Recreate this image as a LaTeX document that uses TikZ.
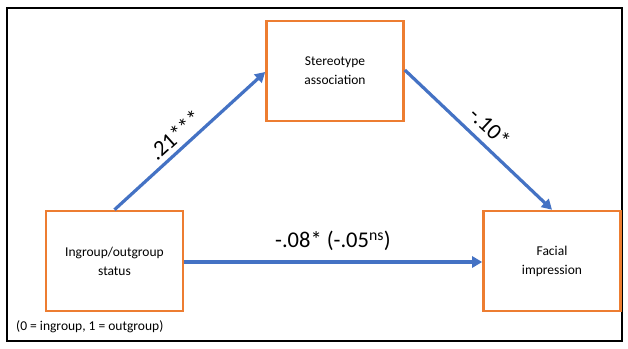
\documentclass[tikz,border=0pt]{standalone}
\usepackage{fontspec}
\setmainfont{Carlito}
\usetikzlibrary{arrows.meta}
\definecolor{boxorange}{HTML}{ED7D31}
\definecolor{arrowblue}{HTML}{4472C4}
\tikzset{
  varbox/.style={draw=boxorange, line width=2.6pt, minimum width=137pt, minimum height=100pt, align=center, font=\fontsize{13.5}{19}\selectfont, inner sep=0pt},
  patharrow/.style={draw=arrowblue, line width=3.2pt, -{Triangle[length=10pt,width=11pt]}},
  coef/.style={font=\fontsize{22.5}{24}\selectfont, inner sep=1pt}
}
\begin{document}
\begin{tikzpicture}[x=1pt,y=-1pt]
\useasboundingbox (0,0) rectangle (628,348);
\fill[white] (0,0) rectangle (628,348);
\node[draw=black, line width=2pt, minimum width=615pt, minimum height=333pt, inner sep=0pt] (frame) at (314,174) {};
\node[varbox] (med) at (335,71) {Stereotype\\association};
\node[varbox] (iv) at (114.5,261) {Ingroup/outgroup\\status};
\node[varbox] (dv) at (552,261) {Facial\\impression};
\node[anchor=west, font=\fontsize{13.5}{16}\selectfont, inner sep=0pt] (code) at (16,327) {(0 = ingroup, 1 = outgroup)};
\draw[patharrow] (iv.north) -- (med.west |- 0,72) coordinate (a1);
\draw[patharrow] (med.north east |- 0,70) -- (dv.north);
\draw[patharrow] (iv.east |- 0,262) -- (dv.west |- 0,262);
\node[coef, rotate=42] (c1) at (175,135) {.21***};
\node[coef, rotate=-43] (c2) at (490,127) {-.10*};
\node[coef] (c3) at (333,241) {-.08* (-.05\textsuperscript{ns})};
\end{tikzpicture}
\end{document}
